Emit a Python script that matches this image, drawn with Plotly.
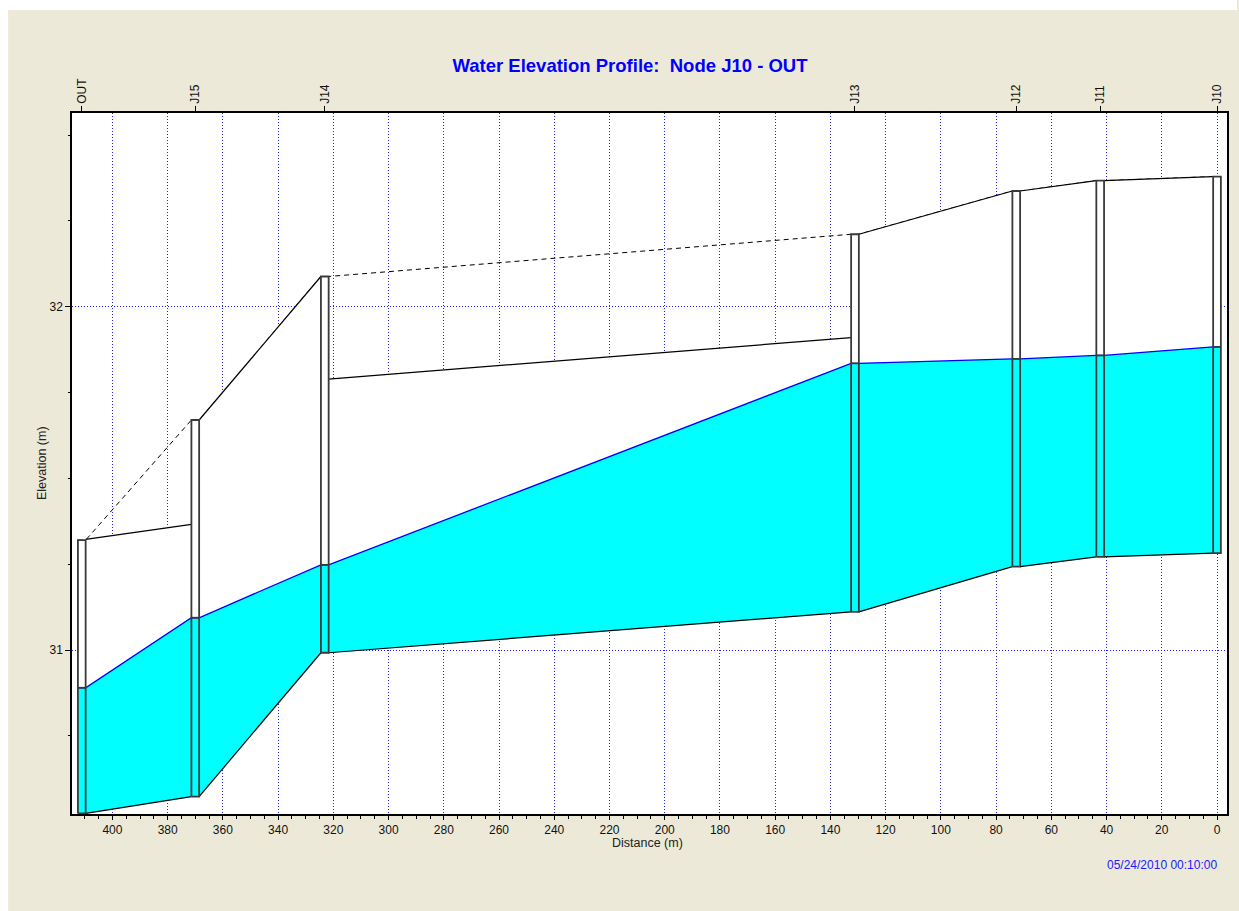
import plotly.graph_objects as go

# ---------------- data ----------------
node_names = ["OUT", "J15", "J14", "J13", "J12", "J11", "J10"]
node_dist = [411.1, 370.0, 323.1, 131.1, 72.7, 42.3, 0.0]          # m
node_invert = [30.524, 30.573, 30.992, 31.111, 31.243, 31.271, 31.282]
node_rim = [31.320, 31.670, 32.088, 32.211, 32.337, 32.367, 32.379]
node_water = [30.890, 31.094, 31.248, 31.835, 31.848, 31.858, 31.883]

# conduits, left node -> right node (OUT-J15, J15-J14, J14-J13, J13-J12, J12-J11, J11-J10)
link_crown_left = [31.322, 31.670, 31.789, 32.211, 32.337, 32.367]
link_crown_right = [31.366, 32.088, 31.910, 32.337, 32.367, 32.379]

x_ticks = list(range(0, 401, 20))
y_ticks = [31, 32]

title_text = "Water Elevation Profile:\u00a0 Node J10 - OUT"
date_text = "05/24/2010 00:10:00"

# ---------------- geometry helpers ----------------
hw = 1.4  # half width of node well (m)
FONT = "Liberation Sans, Arial, sans-serif"
W, H = 1239, 911
L, R, T, B = 72, 10, 113, 97
pw, ph = W - L - R, H - T - B


def px(x):
    return (x - L) / pw


def py(y):
    return (H - B - y) / ph


n = len(node_names)
fig = go.Figure()

# ground line (dashed) across node tops
gx, gy = [], []
for i in range(n):
    gx += [node_dist[i] + hw, node_dist[i] - hw]
    gy += [node_rim[i], node_rim[i]]
fig.add_trace(go.Scatter(x=gx, y=gy, mode="lines",
                         line=dict(color="black", width=1, dash="5px,4px"),
                         hoverinfo="skip", showlegend=False))

# conduit interiors (white)
cx, cy = [], []
for j in range(n - 1):
    xl, xr = node_dist[j] - hw, node_dist[j + 1] + hw
    cx += [xl, xr, xr, xl, xl, None]
    cy += [link_crown_left[j], link_crown_right[j], node_invert[j + 1], node_invert[j], link_crown_left[j], None]
fig.add_trace(go.Scatter(x=cx, y=cy, mode="none", fill="toself", fillcolor="white",
                         hoverinfo="skip", showlegend=False))

# node wells (white)
rx, ry = [], []
for i in range(n):
    a, b = node_dist[i] + hw, node_dist[i] - hw
    rx += [a, b, b, a, a, None]
    ry += [node_invert[i], node_invert[i], node_rim[i], node_rim[i], node_invert[i], None]
fig.add_trace(go.Scatter(x=rx, y=ry, mode="none", fill="toself", fillcolor="white",
                         hoverinfo="skip", showlegend=False))

# water polygon
wx_top, wy_top, wx_bot, wy_bot = [], [], [], []
for i in range(n):
    wx_top += [node_dist[i] + hw, node_dist[i] - hw]
    wy_top += [node_water[i], node_water[i]]
    wx_bot += [node_dist[i] + hw, node_dist[i] - hw]
    wy_bot += [node_invert[i], node_invert[i]]
fig.add_trace(go.Scatter(x=wx_top + wx_bot[::-1] + [wx_top[0]],
                         y=wy_top + wy_bot[::-1] + [wy_top[0]],
                         mode="none", fill="toself", fillcolor="#00FFFF",
                         hoverinfo="skip", showlegend=False))
fig.add_trace(go.Scatter(x=wx_top, y=wy_top, mode="lines",
                         line=dict(color="#0000FF", width=1.3),
                         hoverinfo="skip", showlegend=False))

# conduit crown / invert lines
lx, ly = [], []
for j in range(n - 1):
    xl, xr = node_dist[j] - hw, node_dist[j + 1] + hw
    lx += [xl, xr, None, xl, xr, None]
    ly += [link_crown_left[j], link_crown_right[j], None, node_invert[j], node_invert[j + 1], None]
fig.add_trace(go.Scatter(x=lx, y=ly, mode="lines", line=dict(color="black", width=1.2),
                         hoverinfo="skip", showlegend=False))

# node well outlines + water level marks
ox, oy = [], []
for i in range(n):
    a, b = node_dist[i] + hw, node_dist[i] - hw
    ox += [a, b, b, a, a, None, a, b, None]
    oy += [node_invert[i], node_invert[i], node_rim[i], node_rim[i], node_invert[i], None,
           node_water[i], node_water[i], None]
fig.add_trace(go.Scatter(x=ox, y=oy, mode="lines", line=dict(color="#3a3a3a", width=1.8),
                         hoverinfo="skip", showlegend=False))

# invisible trace for the top (node) axis
fig.add_trace(go.Scatter(x=node_dist, y=node_rim, xaxis="x2", mode="markers",
                         marker=dict(opacity=0), hoverinfo="skip", showlegend=False))

x_range = [(1219 - 72) / 2.76625, (1219 - 1229) / 2.76625]
y_range = [31 - (814 - 650) / 343.3, 32 + (306.7 - 113) / 343.3]

fig.update_layout(
    width=W, height=H,
    margin=dict(l=L, r=R, t=T, b=B, pad=0),
    paper_bgcolor="#ECE9D8",
    plot_bgcolor="white",
    showlegend=False,
    title=dict(text="<b>" + title_text + "</b>", x=630 / W, xref="container", xanchor="center",
               y=1 - 66 / H, yref="container", yanchor="middle",
               font=dict(family=FONT, size=18.5, color="#0000FF")),
    xaxis=dict(range=x_range, tickvals=x_ticks, showgrid=True,
               gridcolor="#2020FF", gridwidth=1, griddash="1px,2px",
               ticks="outside", ticklen=4, tickcolor="black",
               minor=dict(dtick=5, tick0=0, ticks="outside", ticklen=3, tickcolor="black", showgrid=False),
               showline=True, linecolor="black", linewidth=1.5, zeroline=False,
               tickfont=dict(family=FONT, size=12, color="#111111")),
    xaxis2=dict(range=x_range, overlaying="x", side="top", tickvals=node_dist, ticktext=node_names,
                tickangle=-90, ticks="outside", ticklen=5, tickcolor="black",
                showline=True, linecolor="black", linewidth=1.5, showgrid=False, zeroline=False,
                tickfont=dict(family=FONT, size=12, color="#111111")),
    yaxis=dict(range=y_range, tickvals=y_ticks, showgrid=True,
               gridcolor="#2020FF", gridwidth=1, griddash="1px,2px",
               ticks="outside", ticklen=5, tickcolor="black",
               minor=dict(dtick=0.25, tick0=0, ticks="outside", ticklen=2, tickcolor="black", showgrid=False),
               showline=True, mirror=True, linecolor="black", linewidth=1.5, zeroline=False,
               tickfont=dict(family=FONT, size=12, color="#111111")),
    annotations=[
        dict(text="Elevation (m)", x=px(42), y=py(463), xref="paper", yref="paper",
             textangle=-90, showarrow=False, xanchor="center", yanchor="middle",
             font=dict(family=FONT, size=12.5, color="#222222")),
        dict(text="Distance (m)", x=px(648), y=py(843), xref="paper", yref="paper",
             showarrow=False, xanchor="center", yanchor="middle",
             font=dict(family=FONT, size=12.5, color="#222222")),
        dict(text=date_text, x=px(1221), y=py(865), xref="paper", yref="paper",
             showarrow=False, xanchor="right", yanchor="middle",
             font=dict(family=FONT, size=12, color="#2020FF")),
    ],
    shapes=[
        dict(type="rect", xref="paper", yref="paper", x0=px(0), x1=px(8), y0=py(H), y1=py(0),
             fillcolor="white", line=dict(width=0), layer="above"),
        dict(type="rect", xref="paper", yref="paper", x0=px(0), x1=px(W), y0=py(10), y1=py(0),
             fillcolor="white", line=dict(width=0), layer="above"),
    ],
)

fig.write_html("out.html")
